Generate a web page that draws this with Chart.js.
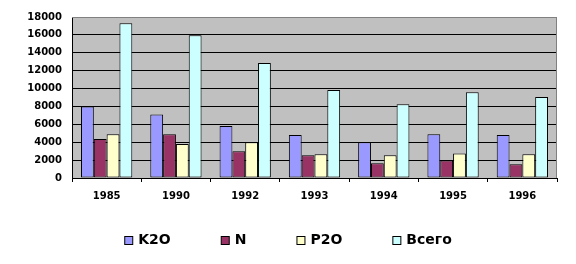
<!DOCTYPE html>
<html>
<head>
<meta charset="utf-8">
<script src="https://cdn.jsdelivr.net/npm/chart.js@4"></script>
<style>
  html, body { margin: 0; padding: 0; background: #fff; }
  #wrap { width: 576px; height: 264px; }
</style>
</head>
<body>
<div id="wrap"><canvas id="myChart" width="576" height="264"></canvas></div>
<script>
var years = ['1985', '1990', '1992', '1993', '1994', '1995', '1996'];
var k2o = [8000, 7100, 5800, 4800, 4000, 4900, 4800];
var n = [4350, 4900, 3000, 2550, 1650, 1950, 1550];
var p2o = [4900, 3800, 4000, 2650, 2550, 2750, 2650];
var total = [17300, 15950, 12850, 9850, 8250, 9600, 9050];
var yTicks = [0, 2000, 4000, 6000, 8000, 10000, 12000, 14000, 16000, 18000];

var tickFont = { family: 'DejaVu Sans', size: 10, weight: 'bold' };

// gray plot background and gray top/right frame
var plotArea = {
    id: 'plotArea',
    beforeDraw: function (chart) {
        var a = chart.chartArea, c = chart.ctx;
        c.save();
        c.fillStyle = '#c0c0c0';
        c.fillRect(a.left, a.top, a.right - a.left, a.bottom - a.top);
        c.restore();
    },
    afterDraw: function (chart) {
        var a = chart.chartArea, c = chart.ctx;
        c.save();
        c.strokeStyle = '#808080';
        c.lineWidth = 1;
        c.beginPath();
        c.moveTo(a.left, a.top + 0.5);
        c.lineTo(a.right - 0.5, a.top + 0.5);
        c.lineTo(a.right - 0.5, a.bottom);
        c.stroke();
        c.restore();
    }
};

// legend drawn by hand so the item spacing can match
var legendRow = {
    id: 'legendRow',
    afterDraw: function (chart) {
        var c = chart.ctx;
        var gap = 50, box = 8, y = 240;
        c.save();
        c.font = 'bold 14px "DejaVu Sans"';
        c.textBaseline = 'middle';
        var items = chart.data.datasets.map(function (ds) {
            return { text: ds.label, color: ds.backgroundColor, w: box + 6 + c.measureText(ds.label).width };
        });
        var totalW = items.reduce(function (s, it) { return s + it.w; }, 0) + gap * (items.length - 1);
        var x = (chart.width - totalW) / 2;
        items.forEach(function (it) {
            c.fillStyle = it.color;
            c.fillRect(x + 0.5, y - box / 2 + 0.5, box, box);
            c.strokeStyle = '#000';
            c.lineWidth = 1;
            c.strokeRect(x + 0.5, y - box / 2 + 0.5, box, box);
            c.fillStyle = '#000';
            c.fillText(it.text, x + box + 6, y);
            x += it.w + gap;
        });
        c.restore();
    }
};

var ctx = document.getElementById('myChart').getContext('2d');
var myChart = new Chart(ctx, {
    type: 'bar',
    data: {
        labels: years,
        datasets: [
            { label: 'K2O', data: k2o, backgroundColor: '#9999ff' },
            { label: 'N', data: n, backgroundColor: '#993366' },
            { label: 'P2O', data: p2o, backgroundColor: '#ffffcc' },
            { label: 'Всего', data: total, backgroundColor: '#ccffff' }
        ]
    },
    options: {
        responsive: false,
        animation: false,
        layout: { padding: { top: 17, right: 19, left: 0, bottom: 0 } },
        datasets: {
            bar: {
                borderColor: '#000',
                borderWidth: 1,
                borderSkipped: false,
                categoryPercentage: 0.74,
                barPercentage: 1
            }
        },
        plugins: {
            legend: { display: false },
            tooltip: { enabled: false }
        },
        scales: {
            x: {
                grid: { display: true, drawOnChartArea: false, tickLength: 4, color: '#000' },
                border: { color: '#000' },
                ticks: { color: '#000', font: tickFont, padding: 8, maxRotation: 0 },
                afterFit: function (scale) { scale.height = 86; }
            },
            y: {
                min: 0,
                max: 18000,
                afterBuildTicks: function (scale) {
                    scale.ticks = yTicks.map(function (v) { return { value: v }; });
                },
                grid: {
                    drawTicks: false,
                    color: function (c) { return c.tick && c.tick.value === 18000 ? '#808080' : '#000'; }
                },
                border: { color: '#000' },
                ticks: {
                    color: '#000',
                    font: tickFont,
                    padding: 10,
                    callback: function (v) { return String(v); }
                },
                afterFit: function (scale) { scale.width = 72; }
            }
        }
    },
    plugins: [plotArea, legendRow]
});
</script>
</body>
</html>
